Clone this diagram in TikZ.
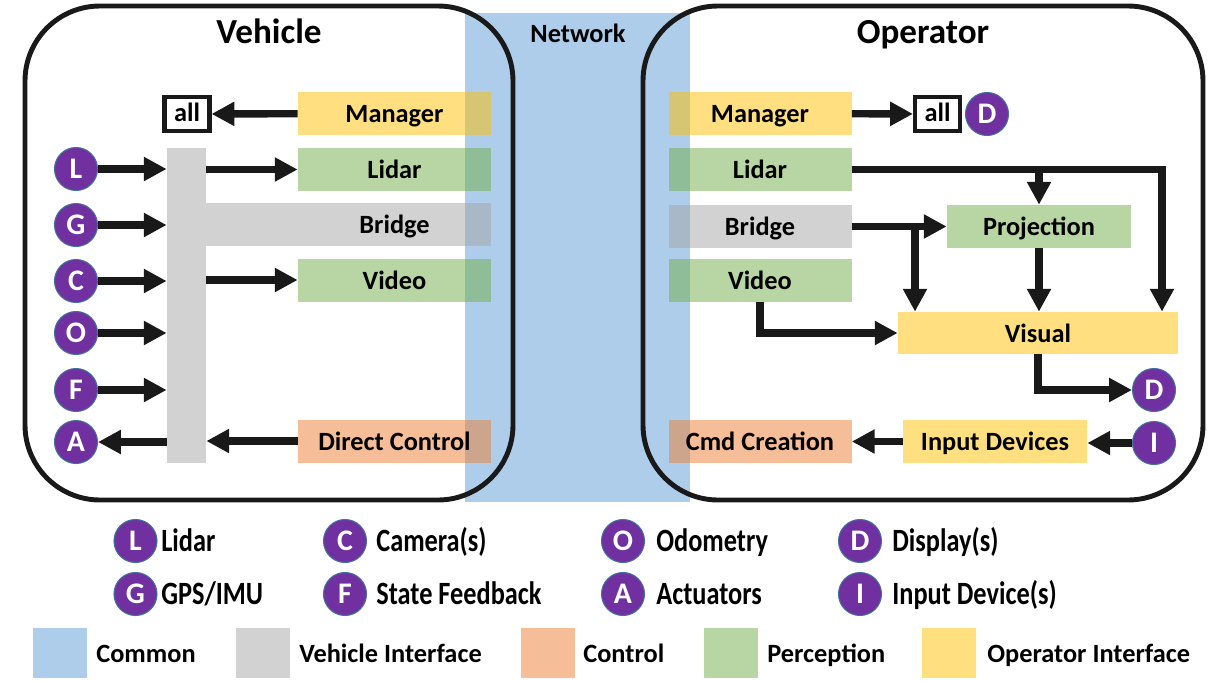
\documentclass[tikz,border=0pt]{standalone}
\usepackage{fontspec}
\setmainfont{Carlito}
\newfontfamily\legendfont{Carlito}[FakeStretch=0.81]
\usetikzlibrary{arrows.meta,positioning}
\newcommand{\px}{0.02cm}
\definecolor{netblue}{HTML}{5B9BD5}
\definecolor{ifgray}{HTML}{A5A5A5}
\definecolor{ctlorange}{HTML}{ED7D31}
\definecolor{percgreen}{HTML}{70AD47}
\definecolor{opgold}{HTML}{FFC000}
\definecolor{sensorfill}{HTML}{7030A0}
\definecolor{sensorline}{HTML}{41719C}

\begin{document}
\begin{tikzpicture}[x=\px, y=-\px,
    every node/.style={font=\bfseries\fontsize{15}{18}\selectfont},
    blk/.style={rectangle, inner sep=0pt, minimum width=193*\px, minimum height=43*\px, fill opacity=0.5, text opacity=1, text height=10.8pt, text depth=0pt},
    oblk/.style={blk, minimum width=183*\px},
    sensor/.style={circle, inner sep=0pt, minimum size=43*\px, fill=sensorfill, draw=sensorline, line width=0.6pt, text=white, font=\bfseries\fontsize{17}{18}\selectfont, text height=11pt, text depth=0pt},
    allbox/.style={draw=black!90, line width=2.3pt, inner sep=0pt, minimum width=45*\px, minimum height=34*\px, text height=9pt, text depth=0pt},
    frame/.style={draw=black!90, line width=2.8pt, rounded corners=1.5cm, minimum height=494*\px},
    flow/.style={draw=black!90, line width=4.2pt, -{Triangle[length=13pt,width=13pt]}},
    title/.style={anchor=base, font=\bfseries\fontsize{20}{24}\selectfont},
    legtext/.style={anchor=base west, inner sep=0pt, font=\legendfont\bfseries\fontsize{18.5}{20}\selectfont},
    keytext/.style={anchor=base west, inner sep=0pt},
    swatch/.style={rectangle, inner sep=0pt, minimum width=54*\px, minimum height=50*\px, fill opacity=0.5}
  ]
  \useasboundingbox (0,0) rectangle (1228,680);

  % Network strip
  \node[rectangle, inner sep=0pt, minimum width=225*\px, minimum height=489*\px, fill=netblue, fill opacity=0.5] (network) at (577.5,257.5) {};
  \node[anchor=base] (nettitle) at (578,42) {Network};

  % Containers
  \node[frame, minimum width=488*\px] (vehicle) at (269,253) {};
  \node[frame, minimum width=560*\px] (operator) at (923,253) {};
  \node[title] (vtitle) at (269,43) {Vehicle};
  \node[title] (otitle) at (923,43) {Operator};

  % Vehicle side
  \node[blk, fill=opgold] (vmanager) at (394.5,113.5) {Manager};
  \node[blk, fill=percgreen] (vlidar) at (394.5,169.5) {Lidar};
  \node[blk, fill=percgreen] (vvideo) at (394.5,280) {Video};
  \node[blk, fill=ctlorange] (vdirect) at (394.5,441) {Direct Control};
  \node[blk, fill=ifgray, minimum width=39*\px, minimum height=315*\px] (vbar) at (186.5,305.5) {};
  \node[blk, fill=ifgray, minimum width=285*\px] (vbridge) at (348.5,224.5) {};
  \node[text height=10.8pt, text depth=0pt] (vbridgelabel) at (394.5,224.5) {Bridge};
  \node[allbox] (vall) at (187,114) {all};

  \node[sensor] (sl) at (76,169) {L};
  \node[sensor] (sg) at (76,225) {G};
  \node[sensor] (sc) at (76,281) {C};
  \node[sensor] (so) at (76,333) {O};
  \node[sensor] (sf) at (76,390) {F};
  \node[sensor] (sa) at (76,442) {A};

  \foreach \s in {sl,sg,sc,so,sf}
    \draw[flow] (\s) -- (\s -| vbar.west);
  \draw[flow] (vbar.east |- vlidar) -- (vlidar);
  \draw[flow] (vbar.east |- vvideo) -- (vvideo);
  \draw[flow] (vmanager) -- (vall);
  \draw[flow] (vdirect) -- (vdirect -| vbar.east);
  \draw[flow] (vbar.west |- sa) -- (sa);

  % Operator side
  \node[oblk, fill=opgold] (omanager) at (760,113.5) {Manager};
  \node[oblk, fill=percgreen] (olidar) at (760,169.5) {Lidar};
  \node[oblk, fill=ifgray] (obridge) at (760,226) {Bridge};
  \node[oblk, fill=percgreen] (ovideo) at (760,280.5) {Video};
  \node[oblk, fill=ctlorange] (ocmd) at (760,441) {Cmd Creation};
  \node[allbox] (oall) at (937.5,114) {all};
  \node[sensor] (odisp) at (987,114) {D};
  \node[oblk, fill=percgreen, minimum width=184*\px] (oproj) at (1039,226.5) {Projection};
  \node[blk, fill=opgold, minimum width=280*\px, minimum height=42*\px] (ovisual) at (1038,333) {Visual};
  \node[sensor] (oscreen) at (1154,390) {D};
  \node[oblk, fill=opgold, minimum width=184*\px] (oinput) at (995,441.5) {Input Devices};
  \node[sensor] (oin) at (1154,443) {I};

  \coordinate (lidarturn) at (1162,169.5);
  \coordinate (bridgesplit) at (915,226.5);
  \draw[flow] (omanager) -- (oall);
  \draw[flow] (olidar.east) -- (lidarturn) -- (lidarturn |- ovisual.north);
  \draw[flow] (oproj.north |- olidar) -- (oproj);
  \draw[flow] (obridge.east |- oproj) -- (oproj);
  \draw[flow] (bridgesplit) -- (bridgesplit |- ovisual.north);
  \draw[flow] (oproj.south) -- (oproj.south |- ovisual.north);
  \draw[flow] (ovideo.south) -- (ovideo.south |- ovisual.west) -- (ovisual.west);
  \draw[flow] (ovisual.south) -- (ovisual.south |- oscreen) -- (oscreen);
  \draw[flow] (oin) -- (oin -| oinput.east);
  \draw[flow] (oinput.west) -- (oinput.west -| ocmd.east);

  % Legend
  \node[sensor] (kl) at (135.5,541) {L};
  \node[legtext] (kltext) at (161,551) {Lidar};
  \node[sensor] (kc) at (345,541) {C};
  \node[legtext] (kctext) at (376,551) {Camera(s)};
  \node[sensor] (ko) at (623,541) {O};
  \node[legtext] (kotext) at (656,551) {Odometry};
  \node[sensor] (kd) at (860,541) {D};
  \node[legtext] (kdtext) at (892,551) {Display(s)};
  \node[sensor] (kg) at (135.5,594) {G};
  \node[legtext] (kgtext) at (161,604) {GPS/IMU};
  \node[sensor] (kf) at (345,594) {F};
  \node[legtext] (kftext) at (376,604) {State Feedback};
  \node[sensor] (ka) at (623,594) {A};
  \node[legtext] (katext) at (656,604) {Actuators};
  \node[sensor] (ki) at (860,594) {I};
  \node[legtext] (kitext) at (892,604) {Input Device(s)};

  \node[swatch, fill=netblue] (kcommon) at (59.5,653) {};
  \node[keytext] (kcommontext) at (96,662) {Common};
  \node[swatch, fill=ifgray] (kvehif) at (262.5,653) {};
  \node[keytext] (kvehiftext) at (299,662) {Vehicle Interface};
  \node[swatch, fill=ctlorange] (kcontrol) at (547.5,653) {};
  \node[keytext] (kcontroltext) at (583,662) {Control};
  \node[swatch, fill=percgreen] (kperc) at (731,653) {};
  \node[keytext] (kperctext) at (767,662) {Perception};
  \node[swatch, fill=opgold] (kopif) at (949,653) {};
  \node[keytext] (kopiftext) at (987,662) {Operator Interface};
\end{tikzpicture}
\end{document}
